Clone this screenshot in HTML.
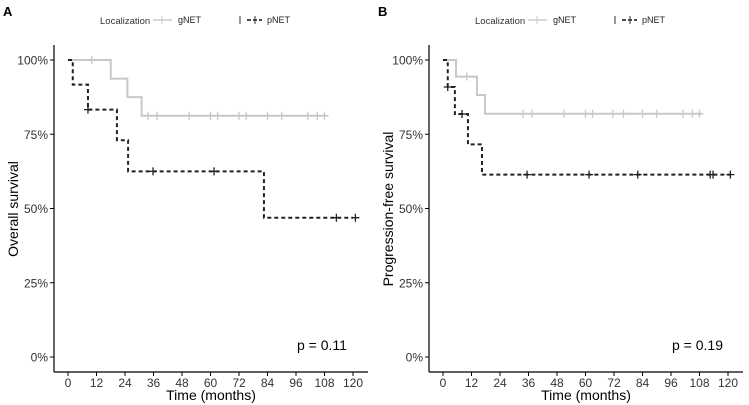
<!DOCTYPE html>
<html><head><meta charset="utf-8"><style>
body{margin:0;background:#fff}
svg{display:block;font-family:"Liberation Sans",sans-serif}
</style></head><body>
<svg id="c" width="749" height="405" xmlns="http://www.w3.org/2000/svg"></svg>
<script>
const xTicks=[0,12,24,36,48,60,72,84,96,108,120];
const yTicks=[0,25,50,75,100];
const yTickLabels=["0%","25%","50%","75%","100%"];
// Panel A (overall survival)
const aG_times=[0,18,25,31,109];
const aG_surv=[100,93.75,87.5,81.25,81.25];
const aG_cens=[10,33.7,37.5,51,60,63,72,75,84,90,101,105,108];
const aP_times=[0,2,8.4,20.6,25.3,82.5,120];
const aP_surv=[100,91.7,83.3,73,62.5,46.9,46.9];
const aP_cens=[8.4,35.8,61.5,113,121];
// Panel B (progression-free survival)
const bG_times=[0,5.5,14.3,17.7,109];
const bG_surv=[100,94.4,88.2,81.9,81.9];
const bG_cens=[10,33.7,37.5,51,60,63,71.5,76,84,90,101,105,108];
const bP_times=[0,2,5,10.5,16.4,121];
const bP_surv=[100,90.9,81.8,71.6,61.4,61.4];
const bP_cens=[2,8,35.4,61.5,82,112.5,113.7,121];

const svg=document.getElementById('c');
const NS='http://www.w3.org/2000/svg';
function el(tag,attrs,parent){const e=document.createElementNS(NS,tag);for(const k in attrs)e.setAttribute(k,attrs[k]);(parent||svg).appendChild(e);return e;}

function panel(ox,letter,ylab,pval,G,P,name){
  const g=el('g',{});
  
  
  const x=t=>ox+68+t*2.375;
  const y=v=>357-v*2.97;
  const lt=el('text',{x:ox+3,y:16,'font-size':13,'font-weight':'bold',fill:'#000'},g);lt.textContent=letter;
  
  const lg=el('g',{},g);
  
  let t=el('text',{x:ox+100,y:24,'font-size':9.5,fill:'#333'},lg);t.textContent='Localization';
  el('line',{x1:ox+153,x2:ox+172,y1:20,y2:20,stroke:'#ccc','stroke-width':1.5},lg);
  el('line',{x1:ox+162,x2:ox+162,y1:16,y2:24,stroke:'#ccc','stroke-width':1},lg);
  t=el('text',{x:ox+178,y:23,'font-size':9,fill:'#222'},lg);t.textContent='gNET';
  el('line',{x1:ox+240,x2:ox+240,y1:16,y2:24,stroke:'#333','stroke-width':1},lg);
  el('line',{x1:ox+247,x2:ox+262,y1:20,y2:20,stroke:'#333','stroke-width':1.8,'stroke-dasharray':'4,2'},lg);
  el('line',{x1:ox+255,x2:ox+255,y1:16,y2:24,stroke:'#333','stroke-width':1},lg);
  t=el('text',{x:ox+267,y:23,'font-size':9,fill:'#222'},lg);t.textContent='pNET';
  el('line',{x1:ox+54,x2:ox+54,y1:45,y2:372,stroke:'#000','stroke-width':1.2},g);
  el('line',{x1:ox+54,x2:ox+368,y1:372,y2:372,stroke:'#000','stroke-width':1.2},g);
  yTicks.forEach((v,i)=>{
    el('line',{x1:ox+50,x2:ox+54,y1:y(v),y2:y(v),stroke:'#000'},g);
    const tt=el('text',{x:ox+48,y:y(v)+4.5,'font-size':12,'text-anchor':'end',fill:'#333'},g);tt.textContent=yTickLabels[i];
    
  });
  xTicks.forEach(v=>{
    el('line',{x1:x(v),x2:x(v),y1:372,y2:376,stroke:'#000'},g);
    const tt=el('text',{x:x(v),y:387,'font-size':12,'text-anchor':'middle',fill:'#333'},g);tt.textContent=v;
    
  });
  const xl=el('text',{x:ox+211,y:400,'font-size':14,'text-anchor':'middle',fill:'#000'},g);xl.textContent='Time (months)';
  
  const yl=el('text',{x:0,y:0,'font-size':14,'text-anchor':'middle',fill:'#000',transform:`translate(${ox+18},209) rotate(-90)`},g);yl.textContent=ylab;
  
  const pv=el('text',{x:ox+297,y:350,'font-size':14,fill:'#000'},g);pv.textContent=pval;
  
  function curve(times,surv,cens,color,dash,nm){
    let d=`M${x(times[0])},${y(surv[0])}`;
    for(let i=1;i<times.length;i++){d+=` H${x(times[i])} V${y(surv[i])}`;}
    const p=el('path',{d:d,fill:'none',stroke:color,'stroke-width':dash?2:2,'stroke-dasharray':dash||'none'},g);
    
    cens.forEach(c=>{
      let s=surv[0];for(let i=0;i<times.length;i++){if(times[i]<=c)s=surv[i];}
      const m=el('path',{d:`M${x(c)},${y(s)-4}V${y(s)+4}M${x(c)-4},${y(s)}H${x(c)+4}`,stroke:color,'stroke-width':1.3,fill:'none'},g);
      
    });
  }
  curve(G[0],G[1],G[2],'#c8c8c8',null,'gnet');
  curve(P[0],P[1],P[2],'#222','4,3','pnet');
}
panel(0,'A','Overall survival','p = 0.11',[aG_times,aG_surv,aG_cens],[aP_times,aP_surv,aP_cens],'panel-a');
panel(375,'B','Progression-free survival','p = 0.19',[bG_times,bG_surv,bG_cens],[bP_times,bP_surv,bP_cens],'panel-b');
</script>
</body></html>
